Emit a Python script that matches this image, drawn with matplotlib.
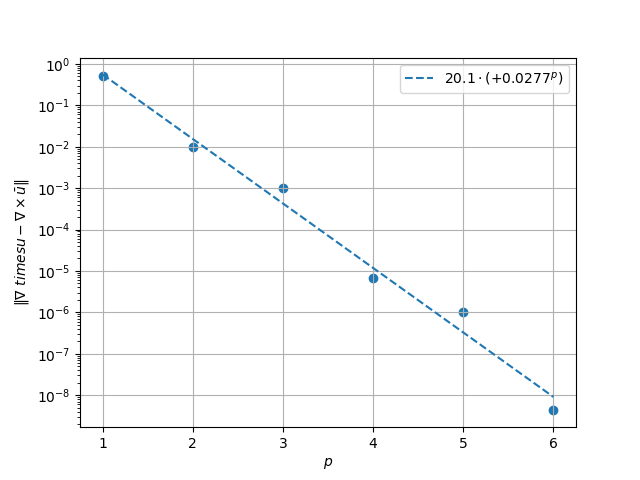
import numpy as np
import matplotlib
matplotlib.use('Agg')
import matplotlib.pyplot as plt

p = np.array([1, 2, 3, 4, 5, 6])
err = np.array([0.5, 1e-2, 1e-3, 6.7e-6, 1e-6, 4.3e-9])

coef = 20.1
base = 0.0277

fit = coef * base ** p

plt.figure()
plt.scatter(p, err)
plt.semilogy(p, fit, '--', label=r'$20.1\cdot(+0.0277^{p})$')
plt.xlabel(r'$p$')
plt.ylabel(r'$\|\nabla\ timesu - \nabla\times\bar{u}\|$')
plt.grid(True)
plt.legend()
plt.savefig('out.png')
